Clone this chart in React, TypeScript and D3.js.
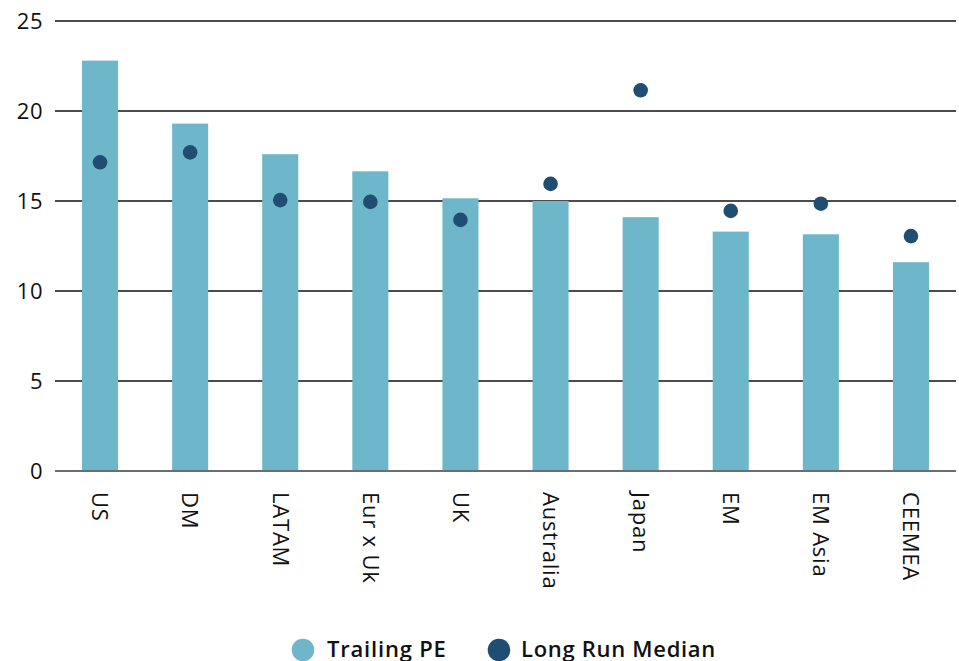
import React from "react";
import * as d3 from "d3";

const categories = ["US", "DM", "LATAM", "Eur x Uk", "UK", "Australia", "Japan", "EM", "EM Asia", "CEEMEA"];
const trailingPE = [22.8, 19.3, 17.6, 16.65, 15.15, 15.0, 14.1, 13.3, 13.15, 11.6];
const longRunMedian = [17.15, 17.7, 15.05, 14.95, 13.95, 15.95, 21.15, 14.45, 14.85, 13.05];
const yTicks = [0, 5, 10, 15, 20, 25];
const seriesNames = ["Trailing PE", "Long Run Median"];

const BAR_COLOR = "#6eb6ca";
const DOT_COLOR = "#204e72";
const FONT = "'Open Sans', 'DejaVu Sans', sans-serif";

export default function App() {
  const W = 959;
  const H = 661;
  const left = 55;
  const right = 956;
  const top = 21;
  const bottom = 471;

  const x = d3.scaleBand<string>().domain(categories).range([left, right]).paddingInner(0.6).paddingOuter(0.3);
  const y = d3.scaleLinear().domain([0, 25]).range([bottom, top]);

  return (
    <svg
      width={W}
      height={H}
      style={{ position: "absolute", left: 0, top: 0, display: "block", background: "#fff" }}
      fontFamily={FONT}
    >
      {yTicks.filter((t) => t > 0).map((t) => (
        <line key={"g" + t} x1={left} x2={right} y1={y(t)} y2={y(t)} stroke="#111" strokeWidth={1.4} />
      ))}
      {categories.map((c, i) => (
        <rect
          key={"b" + c}
          x={x(c)}
          y={y(trailingPE[i])}
          width={x.bandwidth()}
          height={y(0) - y(trailingPE[i])}
          fill={BAR_COLOR}
        />
      ))}
      <line x1={left} x2={right} y1={y(0)} y2={y(0)} stroke="#6a6e72" strokeWidth={2.2} />
      {yTicks.map((t) => (
        <text key={"t" + t} x={43} y={y(t)} dy="0.35em" textAnchor="end" fontSize={22} letterSpacing={0.5} fill="#111">
          {t}
        </text>
      ))}
      {categories.map((c, i) => (
        <circle
          key={"d" + c}
          cx={(x(c) as number) + x.bandwidth() / 2}
          cy={y(longRunMedian[i])}
          r={7.3}
          fill={DOT_COLOR}
        />
      ))}
      {categories.map((c) => {
        const cx = (x(c) as number) + x.bandwidth() / 2;
        return (
          <text
            key={"l" + c}
            transform={`translate(${cx},${492}) rotate(90)`}
            dy="0.35em"
            fontSize={22}
            letterSpacing={0.8}
            fill="#111"
          >
            {c}
          </text>
        );
      })}
      <g>
        <circle cx={303} cy={650} r={11.3} fill={BAR_COLOR} />
        <text x={327} y={657} fontSize={22} fontWeight={600} letterSpacing={0.8} fill="#111">
          {seriesNames[0]}
        </text>
        <circle cx={499} cy={650} r={11.3} fill={DOT_COLOR} />
        <text x={521} y={657} fontSize={22} fontWeight={600} letterSpacing={0.7} fill="#111">
          {seriesNames[1]}
        </text>
      </g>
    </svg>
  );
}
